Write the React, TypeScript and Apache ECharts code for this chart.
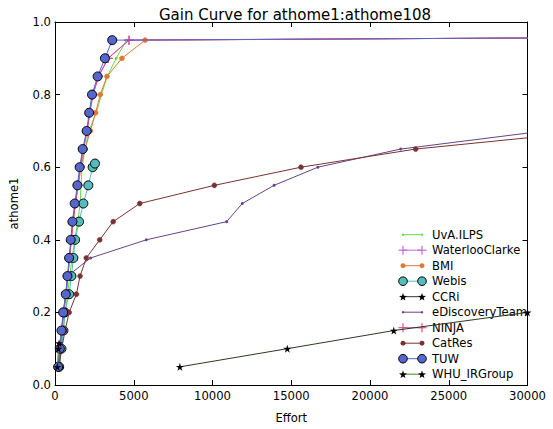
import React, { useEffect, useRef } from "react";
import * as echarts from "echarts";

// ---- Data ----
const steps19 = [0.05, 0.1, 0.15, 0.2, 0.25, 0.3, 0.35, 0.4, 0.45, 0.5, 0.55, 0.6, 0.65, 0.7, 0.75, 0.8, 0.85, 0.9, 0.95];

const uvaEffort = [290, 400, 520, 650, 800, 940, 1080, 1250, 1450, 1600, 1650, 1720, 1900, 2150, 2620, 2950, 3316, 3885, 4540];
const uvaGain = steps19;

const waterlooEffort = [220, 320, 430, 540, 700, 810, 920, 1030, 1140, 1290, 1450, 1600, 1790, 2040, 2200, 2400, 2750, 3360, 4700, 30000];
const waterlooGain = [...steps19, 0.956];

const bmiEffort = [210, 320, 430, 540, 700, 810, 920, 1030, 1150, 1300, 1480, 1650, 1900, 2250, 2580, 2870, 3300, 4250, 5720, 30000];
const bmiGain = [...steps19, 0.956];

const webisEffort = [263, 410, 537, 621, 895, 1042, 1168, 1274, 1528, 1800, 2116, 2390, 2540];
const webisGain = [0.05, 0.1, 0.15, 0.2, 0.25, 0.3, 0.35, 0.4, 0.45, 0.5, 0.55, 0.6, 0.61];

const ccriEffort = [7930, 14750, 21510, 30000];
const ccriGain = [0.05, 0.1, 0.15, 0.2];

const ediscEffort = [200, 310, 420, 530, 680, 790, 2262, 5800, 10900, 11890, 13910, 16690, 21950, 30000];
const ediscGain = [0.05, 0.1, 0.15, 0.2, 0.25, 0.3, 0.35, 0.4, 0.45, 0.5, 0.55, 0.6, 0.65, 0.694];

const ninjaEffort = [225, 330, 440, 550, 710, 820, 930, 1040, 1150, 1300, 1460, 1610, 1800, 2050, 2210, 2420, 2770, 3380, 4700, 30000];
const ninjaGain = [...steps19, 0.956];

const catresEffort = [250, 420, 640, 897, 1358, 1590, 1990, 2840, 3695, 5380, 10120, 15620, 22900, 30000];
const catresGain = [0.05, 0.1, 0.15, 0.2, 0.25, 0.3, 0.35, 0.4, 0.45, 0.5, 0.55, 0.6, 0.65, 0.681];

const tuwEffort = [200, 305, 410, 516, 684, 790, 896, 1000, 1105, 1252, 1421, 1567, 1757, 2010, 2170, 2350, 2705, 3170, 3632, 30000];
const tuwGain = [...steps19, 0.956];

const whuEffort = [150, 220, 260];
const whuGain = [0.05, 0.1, 0.115];

const xTicks = [0, 5000, 10000, 15000, 20000, 25000, 30000];
const yTicks = [0, 0.2, 0.4, 0.6, 0.8, 1.0];

const FONT = "DejaVu Sans";
const STAR = "path://M50,0 L61,35 L98,35 L68,57 L79,91 L50,70 L21,91 L32,57 L2,35 L39,35 Z";
const PLUS = "path://M0.43,0 H0.57 V0.43 H1 V0.57 H0.57 V1 H0.43 V0.57 H0 V0.43 H0.43 Z";

type Spec = {
  name: string;
  x: number[];
  y: number[];
  line: string;
  marker: "dot" | "plus" | "circle" | "bigcircle" | "star";
  fill: string;
  lastIsEdge: boolean; // last point is where the curve leaves the plot (no marker)
};

const specs: Spec[] = [
  { name: "UvA.ILPS", x: uvaEffort, y: uvaGain, line: "#66dd44", marker: "dot", fill: "#66dd44", lastIsEdge: false },
  { name: "WaterlooClarke", x: waterlooEffort, y: waterlooGain, line: "#c866dd", marker: "plus", fill: "#c866dd", lastIsEdge: true },
  { name: "BMI", x: bmiEffort, y: bmiGain, line: "#dd7a33", marker: "circle", fill: "#dd7a33", lastIsEdge: true },
  { name: "Webis", x: webisEffort, y: webisGain, line: "#55bbbb", marker: "bigcircle", fill: "#55bbbb", lastIsEdge: false },
  { name: "CCRi", x: ccriEffort, y: ccriGain, line: "#2a3a22", marker: "star", fill: "#000000", lastIsEdge: false },
  { name: "eDiscoveryTeam", x: ediscEffort, y: ediscGain, line: "#664488", marker: "dot", fill: "#664488", lastIsEdge: true },
  { name: "NINJA", x: ninjaEffort, y: ninjaGain, line: "#dd4a88", marker: "plus", fill: "#dd4a88", lastIsEdge: true },
  { name: "CatRes", x: catresEffort, y: catresGain, line: "#773333", marker: "circle", fill: "#773333", lastIsEdge: true },
  { name: "TUW", x: tuwEffort, y: tuwGain, line: "#5566cc", marker: "bigcircle", fill: "#5566cc", lastIsEdge: true },
  { name: "WHU_IRGroup", x: whuEffort, y: whuGain, line: "#44882a", marker: "star", fill: "#000000", lastIsEdge: false },
];

function seriesSymbol(s: Spec) {
  switch (s.marker) {
    case "dot":
      return { symbol: "circle", symbolSize: 3, itemStyle: { color: s.fill, borderWidth: 0 } };
    case "plus":
      return { symbol: PLUS, symbolSize: 9, itemStyle: { color: s.fill, borderWidth: 0 } };
    case "circle":
      return { symbol: "circle", symbolSize: 5, itemStyle: { color: s.fill, borderColor: s.fill, borderWidth: 0.5 } };
    case "bigcircle":
      return { symbol: "circle", symbolSize: 9, itemStyle: { color: s.fill, borderColor: "#000", borderWidth: 1 } };
    case "star":
      return { symbol: STAR, symbolSize: 8, itemStyle: { color: "#000", borderWidth: 0 } };
  }
}

function starPoints(cx: number, cy: number, R: number) {
  const pts: number[][] = [];
  const r = R * 0.4;
  for (let i = 0; i < 10; i++) {
    const a = -Math.PI / 2 + (i * Math.PI) / 5;
    const rad = i % 2 === 0 ? R : r;
    pts.push([cx + rad * Math.cos(a), cy + rad * Math.sin(a)]);
  }
  return pts;
}

function legendMarker(s: Spec, cx: number, cy: number): any[] {
  switch (s.marker) {
    case "dot":
      return [{ type: "circle", shape: { cx, cy, r: 1.2 }, style: { fill: s.fill } }];
    case "plus":
      return [
        { type: "line", shape: { x1: cx - 4.5, y1: cy, x2: cx + 4.5, y2: cy }, style: { stroke: s.fill, lineWidth: 1.2 } },
        { type: "line", shape: { x1: cx, y1: cy - 4.5, x2: cx, y2: cy + 4.5 }, style: { stroke: s.fill, lineWidth: 1.2 } },
      ];
    case "circle":
      return [{ type: "circle", shape: { cx, cy, r: 2.5 }, style: { fill: s.fill } }];
    case "bigcircle":
      return [{ type: "circle", shape: { cx, cy, r: 4.3 }, style: { fill: s.fill, stroke: "#000", lineWidth: 1 } }];
    case "star":
      return [{ type: "polygon", shape: { points: starPoints(cx, cy + 0.5, 4.2) }, style: { fill: "#000" } }];
  }
}

export default function App() {
  const ref = useRef<HTMLDivElement>(null);
  useEffect(() => {
    if (!ref.current) return;
    document.body.style.margin = "0";
    const chart = echarts.init(ref.current, undefined, { renderer: "svg" });
    const left = 52.5, right = 25.5, top = 22, bottom = 39;

    const legendEls: any[] = [];
    const lx0 = 403, lx1 = 422, ly0 = 234.7, ldy = 15.5;
    specs.forEach((s, i) => {
      const y = ly0 + i * ldy;
      legendEls.push({ type: "line", shape: { x1: lx0, y1: y, x2: lx1, y2: y }, style: { stroke: s.line, lineWidth: 1 } });
      legendEls.push(...legendMarker(s, lx0, y));
      legendEls.push(...legendMarker(s, lx1, y));
      legendEls.push({
        type: "text",
        x: 432,
        y,
        style: { text: s.name, fill: "#000", font: `11.6px "${FONT}"`, textVerticalAlign: "middle", verticalAlign: "middle" },
      });
    });

    const axisCommon = {
      type: "value" as const,
      axisLine: { show: true, onZero: false, lineStyle: { color: "#000", width: 1 } },
      axisTick: { show: true, inside: true, length: 5, lineStyle: { color: "#000" } },
      splitLine: { show: false },
    };

    chart.setOption({
      animation: false,
      backgroundColor: "#fff",
      textStyle: { fontFamily: FONT },
      title: {
        text: "Gain Curve for athome1:athome108",
        left: 290,
        top: 2,
        textAlign: "center",
        textStyle: { fontFamily: FONT, fontSize: 15, fontWeight: "normal", color: "#000" },
      },
      grid: { left, right, top, bottom, containLabel: false },
      xAxis: [
        {
          ...axisCommon,
          position: "bottom",
          min: xTicks[0],
          max: xTicks[xTicks.length - 1],
          interval: xTicks[1] - xTicks[0],
          name: "Effort",
          nameLocation: "middle",
          nameGap: 27,
          nameTextStyle: { fontFamily: FONT, fontSize: 11.6, color: "#000" },
          axisLabel: { show: true, margin: 5, color: "#000", fontFamily: FONT, fontSize: 11.6, formatter: (v: number) => String(v) },
        },
        {
          ...axisCommon,
          position: "top",
          min: xTicks[0],
          max: xTicks[xTicks.length - 1],
          interval: xTicks[1] - xTicks[0],
          axisLabel: { show: false },
        },
      ],
      yAxis: [
        {
          ...axisCommon,
          position: "left",
          min: yTicks[0],
          max: yTicks[yTicks.length - 1],
          interval: yTicks[1] - yTicks[0],
          name: "athome1",
          nameLocation: "middle",
          nameGap: 35,
          nameTextStyle: { fontFamily: FONT, fontSize: 11.6, color: "#000" },
          axisLabel: { show: true, margin: 4, color: "#000", fontFamily: FONT, fontSize: 11.6, formatter: (v: number) => v.toFixed(1) },
        },
        {
          ...axisCommon,
          position: "right",
          min: yTicks[0],
          max: yTicks[yTicks.length - 1],
          interval: yTicks[1] - yTicks[0],
          axisLabel: { show: false },
        },
      ],
      series: specs.map((s, i) => ({
        name: s.name,
        type: "line",
        xAxisIndex: 0,
        yAxisIndex: 0,
        data: s.x.map((x, j) =>
          s.lastIsEdge && j === s.x.length - 1 ? { value: [x, s.y[j]], symbol: "none" } : [x, s.y[j]]
        ),
        lineStyle: { color: s.line, width: 1 },
        ...seriesSymbol(s),
        showSymbol: true,
        clip: true,
        z: 2 + i,
        emphasis: { disabled: true },
      })),
      graphic: legendEls,
    });
    return () => chart.dispose();
  }, []);
  return <div ref={ref} style={{ width: 553, height: 429 }} />;
}
